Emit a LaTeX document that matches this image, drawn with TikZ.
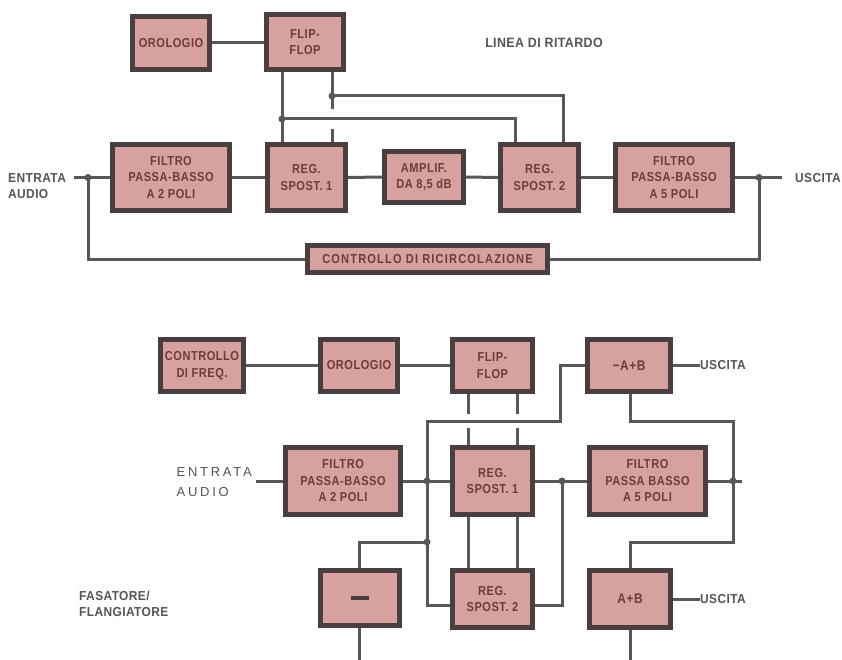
\documentclass[tikz,border=0pt]{standalone}
\usepackage{fontspec}
\usetikzlibrary{calc}
\setmainfont{Liberation Sans}[FakeStretch=0.92,LetterSpace=3]
\newfontfamily\boxfont{Liberation Sans}[FakeStretch=0.85,LetterSpace=4]
\newfontfamily\widefont{Liberation Sans}[LetterSpace=21]
\definecolor{boxfill}{HTML}{D7A19F}
\definecolor{boxedge}{HTML}{4A3E3E}
\definecolor{boxtxt}{HTML}{703A3A}
\definecolor{wirec}{HTML}{595757}
\definecolor{labc}{HTML}{555555}
\tikzset{
  blk/.style={draw=boxedge, fill=boxfill, line width=5pt, inner sep=0pt,
    align=center, text=boxtxt, font=\boxfont\bfseries\fontsize{13}{16.5}\selectfont},
  wire/.style={draw=wirec, line width=3pt},
  jdot/.style={circle, fill=wirec, inner sep=0pt, minimum size=7pt},
  lab/.style={text=labc, font=\bfseries\fontsize{13}{16}\selectfont, inner sep=0pt},
}
\newcommand\blkbox[6]{%
  \pgfmathsetmacro\bx{(#2+#4)/2}\pgfmathsetmacro\by{(#3+#5)/2}%
  \pgfmathsetmacro\bw{#4-#2-5}\pgfmathsetmacro\bh{#5-#3-5}%
  \node[blk, minimum width=\bw pt, minimum height=\bh pt] (#1) at (\bx,\by) {#6};}
\begin{document}
\begin{tikzpicture}[x=1pt,y=-1pt]
\useasboundingbox[fill=white] (0,0) rectangle (842,660);
% ---------- top diagram ----------
\blkbox{o1}{130}{14}{212}{72}{OROLOGIO}
\blkbox{ff1}{264}{12}{346}{72}{FLIP-\\FLOP}
\blkbox{fa}{110}{142}{232}{213}{FILTRO\\PASSA-BASSO\\A 2 POLI}
\blkbox{ra}{265}{142}{348}{213}{REG.\\SPOST. 1}
\blkbox{am}{382}{149}{466}{205}{AMPLIF.\\DA 8,5 dB}
\blkbox{rb}{498}{142}{581}{213}{REG.\\SPOST. 2}
\blkbox{fb}{613}{142}{735}{213}{FILTRO\\PASSA-BASSO\\A 5 POLI}
\blkbox{cr}{305}{243}{550}{275}{\addfontfeature{LetterSpace=9}CONTROLLO DI RICIRCOLAZIONE}

\node[lab, anchor=west, align=left] (tin) at (8,186) {ENTRATA\\AUDIO};
\node[lab, anchor=west] (tout) at (795,178) {USCITA};
\node[lab, font=\bfseries\fontsize{13.5}{16}\selectfont] (title1) at (544,43) {LINEA DI RITARDO};

\coordinate (tj1) at (88,177.5);
\coordinate (tj2) at (759,177.5);
\coordinate (ts) at (74,177.5);
\coordinate (te) at (782,177.5);
\draw[wire] (o1.east) -- (ff1.west |- o1.east);
\draw[wire] (ts) -- (fa.west);
\draw[wire] (fa.east) -- (ra.west);
\draw[wire] (ra.east) -- (am.west);
\draw[wire] (am.east) -- (rb.west);
\draw[wire] (rb.east) -- (fb.west);
\draw[wire] (fb.east) -- (te);
\draw[wire] (tj1) |- (cr.west);
\draw[wire] (cr.east) -| (tj2);
\node[jdot] at (tj1) {};
\node[jdot] at (tj2) {};
% clock lines
\coordinate (ja) at (282,119);
\coordinate (jb) at (332,96);
\draw[wire] (ff1.south -| ja) -- (ra.north -| ja);
\draw[wire] (ja) -| (rb.north -| 515,0);
\draw[wire] (ff1.south -| jb) -- (332,109);
\draw[wire] (332,129) -- (ra.north -| jb);
\draw[wire] (jb) -| (rb.north -| 563,0);
\node[jdot] at (ja) {};
\node[jdot] at (jb) {};

% ---------- bottom diagram ----------
\blkbox{cf}{158}{337}{246}{394}{CONTROLLO\\DI FREQ.}
\blkbox{o2}{318}{337}{400}{394}{OROLOGIO}
\blkbox{ff2}{450}{337}{535}{394}{FLIP-\\FLOP}
\blkbox{mab}{585}{337}{673}{394}{\fontsize{14}{16}\selectfont −A+B}
\blkbox{fc}{283}{445}{403}{517}{FILTRO\\PASSA-BASSO\\A 2 POLI}
\blkbox{rc}{450}{445}{535}{517}{REG.\\SPOST. 1}
\blkbox{fd}{587}{445}{708}{517}{FILTRO\\PASSA BASSO\\A 5 POLI}
\blkbox{inv}{318}{568}{402}{628}{}
\blkbox{rd}{450}{568}{535}{630}{REG.\\SPOST. 2}
\blkbox{pab}{587}{568}{673}{630}{\fontsize{14}{16}\selectfont A+B}
\fill[boxedge] ($(inv.center)+(-9,-2.2)$) rectangle ($(inv.center)+(9,2.2)$);

\node[lab, anchor=west] (u1) at (700,365.5) {USCITA};
\node[lab, anchor=west] (u2) at (700,599) {USCITA};
\node[lab, anchor=east, align=left, font=\widefont\fontsize{13}{20}\selectfont] (ein) at (252,482) {ENTRATA\\AUDIO};
\node[lab, anchor=west, align=left] (fas) at (79,604) {FASATORE/\\FLANGIATORE};

\coordinate (bs) at (256,481);
\coordinate (bj1) at (427,481);
\coordinate (bj2) at (562,481);
\coordinate (bj3) at (733,481);
\coordinate (be) at (742,481);
\coordinate (bj4) at (427,542);
\draw[wire] (cf.east) -- (o2.west);
\draw[wire] (o2.east) -- (ff2.west);
\draw[wire] (mab.east) -- (u1.west);
\draw[wire] (pab.east) -- (u2.west);
\draw[wire] (bs) -- (fc.west);
\draw[wire] (fc.east) -- (rc.west);
\draw[wire] (rc.east) -- (fd.west);
\draw[wire] (fd.east) -- (be);
% -A+B feed
\draw[wire] (mab.west) -| (560,421) -| (427,605) -- (rd.west |- 0,605);
\draw[wire] (bj2) |- (rd.east |- 0,605);
% clock lines
\draw[wire] (ff2.south -| 468,0) -- (468,414);
\draw[wire] (468,428) -- (rc.north -| 468,0);
\draw[wire] (ff2.south -| 517,0) -- (517,414);
\draw[wire] (517,428) -- (rc.north -| 517,0);
\draw[wire] (rc.south -| 468,0) -- (rd.north -| 468,0);
\draw[wire] (rc.south -| 517,0) -- (rd.north -| 517,0);
% A+B feed
\draw[wire] (mab.south -| 630,0) |- (733,421) |- (630,542) -- (pab.north -| 630,0);
% inverter
\draw[wire] (inv.north -| 359,0) |- (bj4);
\draw[wire] (inv.south -| 359,0) -- (359,660);
\draw[wire] (pab.south -| 630,0) -- (630,660);
\node[jdot] at (bj1) {};
\node[jdot] at (bj2) {};
\node[jdot] at (bj3) {};
\node[jdot] at (bj4) {};
\end{tikzpicture}
\end{document}
